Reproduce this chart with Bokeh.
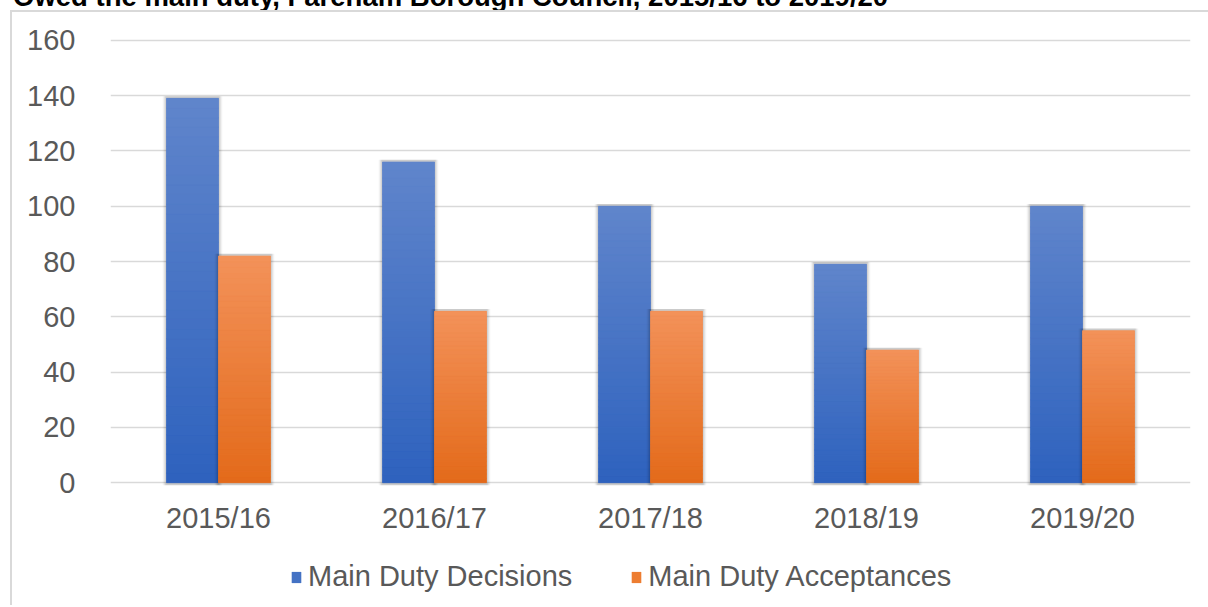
from bokeh.plotting import figure
from bokeh.layouts import column, row
from bokeh.models import (ColumnDataSource, FactorRange, Range1d, Legend, LegendItem,
                          SingleIntervalTicker, NumeralTickFormatter, Div, Spacer)
from bokeh.transform import dodge
from bokeh.embed import file_html
from bokeh.resources import INLINE

# ---- data ----
title_text = "Owed the main duty, Fareham Borough Council, 2015/16 to 2019/20"
years = ["2015/16", "2016/17", "2017/18", "2018/19", "2019/20"]
decisions = [139, 116, 100, 79, 100]
acceptances = [82, 62, 62, 48, 55]
series_names = ["Main Duty Decisions", "Main Duty Acceptances"]

# ---- styles ----
FONT = "Liberation Sans"
TXT = "#595959"
GRID = "#D9D9D9"
BLUE_TOP, BLUE_BOT = (96, 133, 203), (46, 98, 190)
ORNG_TOP, ORNG_BOT = (243, 146, 90), (227, 106, 26)
BAR_W = 0.2407
OFF = BAR_W / 2
NSLICE = 40
PAD = 10      # space before the chart-area border
LINE = 2      # border thickness
TOTAL_W = 1208
TOTAL_H = 605

p = figure(x_range=FactorRange(*years), y_range=Range1d(-1, 161),
           width=TOTAL_W - PAD - LINE, height=545 - PAD - LINE,
           output_backend="svg", toolbar_location=None,
           min_border_left=110 - PAD - LINE, min_border_right=18 - (1208 - TOTAL_W),
           min_border_top=37 - PAD - LINE, min_border_bottom=60)
p.outline_line_color = None
p.background_fill_color = "white"
p.border_fill_color = "white"

p.xgrid.grid_line_color = None
p.ygrid.grid_line_color = GRID
p.ygrid.grid_line_width = 1.5
p.yaxis.ticker = SingleIntervalTicker(interval=20)
p.yaxis.formatter = NumeralTickFormatter(format="0")

for ax in (p.xaxis[0], p.yaxis[0]):
    ax.axis_line_color = None
    ax.major_tick_line_color = None
    ax.minor_tick_line_color = None
    ax.major_tick_out = 0
    ax.major_tick_in = 0
    ax.minor_tick_out = 0
    ax.major_label_text_font = FONT
    ax.major_label_text_font_size = "29px"
    ax.major_label_text_color = TXT
p.yaxis.major_label_standoff = 35
p.xaxis.major_label_standoff = 16


def lerp(c1, c2, t):
    return "#%02x%02x%02x" % tuple(int(round(a + (b - a) * t)) for a, b in zip(c1, c2))


def shadow_and_gradient(values, offset, ctop, cbot, mid):
    for extra, alpha in ((0.035, 0.05), (0.022, 0.07), (0.011, 0.09)):
        p.vbar(x=dodge("x", offset, range=p.x_range), top="top", bottom=-1,
               width=BAR_W + extra,
               source=ColumnDataSource(dict(x=years, top=[v + 0.8 for v in values])),
               fill_color="black", fill_alpha=alpha, line_color=None)
    p.vbar(x=dodge("x", offset, range=p.x_range), top="top", width=BAR_W,
           source=ColumnDataSource(dict(x=years, top=values)),
           fill_color=mid, line_color=None)
    xs, bots, tops, cols = [], [], [], []
    for yr, v in zip(years, values):
        for k in range(NSLICE):
            xs.append(yr)
            bots.append(v * k / NSLICE)
            tops.append(v * (k + 1) / NSLICE)
            cols.append(lerp(cbot, ctop, (k + 0.5) / NSLICE))
    p.vbar(x=dodge("x", offset, range=p.x_range), bottom="b", top="t", width=BAR_W,
           source=ColumnDataSource(dict(x=xs, b=bots, t=tops, c=cols)),
           fill_color="c", line_color="c", line_width=0.6)


shadow_and_gradient(decisions, -OFF, BLUE_TOP, BLUE_BOT, "#4F79C7")
shadow_and_gradient(acceptances, OFF, ORNG_TOP, ORNG_BOT, "#EC7E38")

# ---- legend strip below the plot ----
LEG_H = TOTAL_H - 545
p2 = figure(width=TOTAL_W - PAD - LINE, height=LEG_H, x_range=Range1d(0, 1),
            y_range=Range1d(0, 1), output_backend="svg", toolbar_location=None,
            x_axis_location=None, y_axis_location=None,
            min_border=0, min_border_left=0, min_border_right=0,
            min_border_top=0, min_border_bottom=0)
p2.grid.visible = False
p2.outline_line_color = None
p2.background_fill_color = "white"
p2.border_fill_color = "white"
# legend swatches (kept outside the visible range)
g1 = p2.vbar(x=[-10], top=[-10], width=0.01, fill_color="#4472C4", line_color=None)
g2 = p2.vbar(x=[-10], top=[-10], width=0.01, fill_color="#ED7D31", line_color=None)

legend = Legend(items=[LegendItem(label=series_names[0], renderers=[g1], index=0),
                       LegendItem(label=series_names[1], renderers=[g2], index=0)],
                orientation="horizontal", location=(180, 14 - (62 - LEG_H)), margin=0,
                padding=0, spacing=58, label_standoff=6, glyph_width=12, glyph_height=14,
                label_text_font=FONT, label_text_font_size="29px",
                label_text_color=TXT, border_line_color=None,
                background_fill_alpha=0)
p2.add_layout(legend, "center")

# ---- title (only its lower edge shows above the chart area, as in the source) ----
title = Div(text=('<div style="position:relative; top:-19px; left:13px; '
                  "font: bold 27.5px 'Liberation Sans', Arial, sans-serif; "
                  'line-height: normal; white-space: nowrap; color: #000;">'
                  + title_text + '</div>'),
            width=TOTAL_W, height=PAD, margin=0,
            styles={"overflow": "hidden"})

# ---- chart-area border (left and top edges) ----
top_line = Spacer(width=TOTAL_W - PAD, height=LINE, margin=0,
                  styles={"background-color": GRID})
left_line = Spacer(width=LINE, height=TOTAL_H - PAD - LINE, margin=0,
                   styles={"background-color": GRID})
layout = column(
    title,
    row(Spacer(width=PAD, height=TOTAL_H - PAD, margin=0),
        column(top_line,
               row(left_line, column(p, p2, spacing=0), spacing=0),
               spacing=0),
        spacing=0),
    spacing=0)
open("out.html", "w").write(file_html(layout, INLINE))
